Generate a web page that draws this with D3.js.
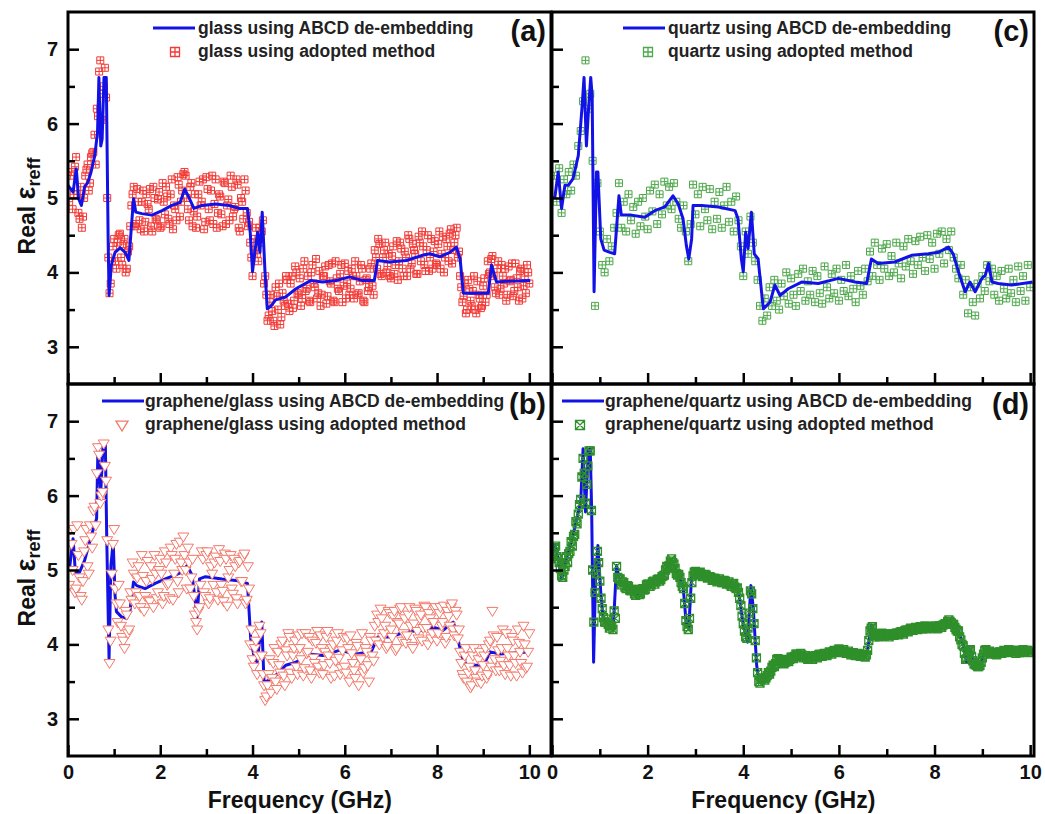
<!DOCTYPE html>
<html lang="en">
<head>
<meta charset="utf-8">
<script src="https://cdn.jsdelivr.net/npm/d3@7/dist/d3.min.js"></script>
<style>
  body { margin: 0; background: white; }
  svg { font-family: 'Liberation Sans', Arial, sans-serif; font-weight: bold; }
  .frame { fill: none; stroke: #000; stroke-width: 3; }
  .axis path { display: none; }
  .axis line { stroke: #000; stroke-width: 2.5; }
  .axis text { font-size: 20px; font-weight: bold; fill: #111; font-family: 'Liberation Sans', Arial, sans-serif; }
  .ablue { fill: none; stroke: #1212e6; stroke-width: 3; stroke-linejoin: round; }
  .legend text { font-size: 17.5px; fill: #222; }
  .plabel { font-size: 29px; fill: #111; }
  .xlabel { font-size: 23px; fill: #111; }
  .ylabel { font-size: 23px; fill: #111; }
</style>
</head>
<body>
<svg width="1045" height="814"></svg>
<script>
// ---- data ----
// ABCD de-embedding curves: frequency (GHz) / real eps_reff
const lineFreqA = [0, 0.11, 0.18, 0.23, 0.29, 0.36, 0.43, 0.50, 0.58, 0.64, 0.67, 0.71, 0.74, 0.78, 0.83, 0.87, 0.89, 0.94, 1.02, 1.13, 1.24, 1.32, 1.42, 1.47, 1.60, 1.82, 2.04, 2.25, 2.43, 2.53, 2.62, 2.73, 2.91, 3.20, 3.49, 3.71, 3.89, 3.95, 4.00, 4.06, 4.11, 4.16, 4.21, 4.27, 4.32, 4.39, 4.50, 4.72, 4.94, 5.26, 5.52, 5.81, 6.10, 6.39, 6.64, 6.71, 6.97, 7.33, 7.69, 7.84, 8.06, 8.28, 8.42, 8.50, 8.57, 8.86, 9.11, 9.18, 9.29, 9.51, 10.02];
const lineEpsA = [5.17, 5.08, 5.39, 4.99, 4.90, 5.15, 5.21, 5.35, 5.57, 5.88, 6.62, 5.70, 5.79, 6.62, 6.62, 4.45, 3.69, 4.10, 4.27, 4.33, 4.27, 4.16, 4.99, 4.81, 4.79, 4.77, 4.83, 4.90, 4.94, 5.12, 5.01, 4.86, 4.90, 4.92, 4.90, 4.86, 4.86, 4.54, 4.01, 4.32, 4.54, 4.27, 4.81, 4.01, 3.51, 3.54, 3.63, 3.67, 3.78, 3.89, 3.87, 3.89, 3.94, 3.89, 3.89, 4.16, 4.14, 4.16, 4.23, 4.25, 4.21, 4.27, 4.34, 4.18, 3.72, 3.72, 3.72, 4.10, 3.87, 3.88, 3.89];

const lineFreqB = [0, 0.04, 0.11, 0.16, 0.25, 0.36, 0.51, 0.62, 0.65, 0.71, 0.76, 0.81, 0.84, 0.89, 0.93, 0.98, 1.02, 1.05, 1.16, 1.27, 1.34, 1.42, 1.49, 1.67, 1.89, 2.11, 2.32, 2.47, 2.58, 2.69, 2.80, 2.85, 2.98, 3.34, 3.63, 3.89, 3.96, 4.03, 4.10, 4.20, 4.25, 4.36, 4.50, 4.72, 4.94, 5.23, 5.52, 5.88, 6.25, 6.57, 6.72, 6.97, 7.33, 7.70, 7.92, 8.13, 8.35, 8.42, 8.53, 8.64, 9.01, 9.15, 9.37, 10.02];
const lineEpsB = [5.00, 5.06, 5.42, 4.97, 4.97, 5.13, 5.47, 5.69, 6.68, 6.05, 6.68, 6.68, 5.42, 3.81, 5.06, 5.38, 4.66, 4.44, 4.37, 4.35, 4.44, 4.84, 4.79, 4.75, 4.82, 4.88, 4.93, 4.97, 5.06, 4.93, 4.37, 4.88, 4.91, 4.88, 4.86, 4.82, 4.08, 3.85, 3.76, 4.30, 3.49, 3.52, 3.58, 3.72, 3.76, 3.87, 3.85, 3.92, 3.87, 3.90, 4.10, 4.10, 4.17, 4.19, 4.23, 4.19, 4.30, 4.17, 3.85, 3.72, 3.72, 3.90, 3.87, 3.90];

const lineFreqC = [0, 0.06, 0.13, 0.20, 0.27, 0.34, 0.44, 0.55, 0.63, 0.67, 0.72, 0.76, 0.81, 0.84, 0.88, 0.93, 0.96, 1.02, 1.09, 1.21, 1.31, 1.40, 1.45, 1.66, 1.94, 2.15, 2.36, 2.53, 2.64, 2.74, 2.81, 2.86, 2.92, 2.95, 3.13, 3.48, 3.83, 3.89, 3.96, 4.00, 4.05, 4.10, 4.17, 4.23, 4.31, 4.42, 4.56, 4.66, 4.77, 4.94, 5.22, 5.57, 5.99, 6.34, 6.58, 6.68, 6.82, 7.17, 7.52, 7.87, 8.08, 8.29, 8.39, 8.50, 8.64, 8.74, 8.85, 8.99, 9.06, 9.13, 9.20, 9.33, 9.61, 10.05];
const lineEpsC = [5.00, 5.01, 5.35, 4.86, 5.17, 5.17, 5.26, 5.57, 6.24, 6.62, 5.70, 6.15, 6.62, 6.37, 3.74, 5.35, 5.35, 4.45, 4.30, 4.27, 4.25, 5.03, 4.77, 4.77, 4.74, 4.83, 4.88, 5.03, 4.92, 4.72, 4.36, 4.18, 4.45, 4.90, 4.90, 4.88, 4.83, 4.72, 4.18, 4.01, 4.54, 4.32, 4.81, 4.25, 4.18, 3.51, 3.60, 3.83, 3.69, 3.78, 3.87, 3.85, 3.92, 3.87, 3.85, 4.18, 4.12, 4.14, 4.23, 4.25, 4.27, 4.34, 4.25, 4.01, 3.74, 3.87, 3.74, 3.92, 3.96, 4.12, 3.87, 3.85, 3.83, 3.87];

const lineFreqD = [0, 0.06, 0.13, 0.20, 0.30, 0.41, 0.55, 0.60, 0.65, 0.70, 0.76, 0.80, 0.83, 0.87, 0.91, 0.96, 1.02, 1.07, 1.17, 1.28, 1.35, 1.42, 1.59, 1.80, 2.01, 2.29, 2.50, 2.64, 2.74, 2.81, 2.86, 2.92, 3.06, 3.34, 3.68, 3.89, 4.00, 4.09, 4.16, 4.21, 4.28, 4.33, 4.52, 4.73, 4.87, 5.15, 5.43, 5.78, 6.06, 6.33, 6.58, 6.68, 6.75, 7.17, 7.52, 7.87, 8.15, 8.32, 8.50, 8.60, 8.67, 8.74, 8.85, 8.95, 9.06, 9.26, 9.61, 10.05];
const lineEpsD = [5.20, 5.33, 5.15, 4.88, 5.15, 5.38, 5.78, 5.91, 6.63, 5.78, 6.61, 6.63, 5.78, 3.76, 4.88, 5.33, 4.70, 4.35, 4.28, 4.21, 5.06, 4.84, 4.77, 4.68, 4.79, 4.88, 5.13, 4.93, 4.79, 4.26, 4.21, 4.93, 4.97, 4.88, 4.82, 4.75, 4.26, 4.03, 4.79, 4.48, 3.72, 3.49, 3.58, 3.81, 3.76, 3.87, 3.81, 3.87, 3.92, 3.87, 3.85, 4.26, 4.12, 4.12, 4.21, 4.23, 4.23, 4.32, 4.17, 3.99, 3.76, 3.94, 3.72, 3.70, 3.94, 3.87, 3.92, 3.90];

// adopted-method points: every 25 MHz, split in two interleaved runs
// (run 1 at 0.05, 0.10 ... 10.00 GHz, run 2 at 0.025, 0.075 ... 9.975 GHz)
const sweepGHz = d3.range(1, 201).map(i => +(i * 0.05).toFixed(3));
const sweepMidGHz = d3.range(0, 200).map(i => +(i * 0.05 + 0.025).toFixed(3));

const scatterA = [
  5.30, 4.85, 5.42, 5.05, 4.72, 4.60, 5.00, 5.38, 5.10, 5.55, 5.62, 5.45, 6.10, 6.85, 6.40, 6.75, 5.00, 3.72, 4.15, 4.45,
  4.05, 4.50, 4.20, 4.38, 4.00, 4.28, 4.62, 5.05, 4.62, 5.12, 4.70, 4.95, 4.55, 5.05, 4.85, 4.62, 5.15, 4.72, 4.98, 4.60,
  5.20, 4.78, 5.02, 4.65, 5.25, 4.90, 4.70, 5.18, 4.95, 5.32, 5.30, 4.85, 5.15, 4.62, 5.05, 4.75, 5.22, 4.95, 4.58, 5.28,
  4.85, 5.10, 4.65, 5.25, 4.80, 5.02, 4.62, 5.20, 4.90, 4.70, 5.15, 4.85, 5.25, 4.60, 5.00, 4.72, 5.10, 4.62, 4.40, 3.95,
  4.45, 4.25, 4.60, 4.55, 3.85, 3.70, 3.42, 3.70, 3.35, 3.80, 3.50, 3.30, 3.72, 3.55, 3.90, 3.48, 3.95, 3.62, 4.00, 3.70,
  3.55, 4.05, 3.75, 3.95, 3.60, 4.10, 3.80, 3.65, 4.02, 3.70, 3.95, 3.58, 4.10, 3.85, 3.62, 4.15, 3.78, 3.98, 3.60, 4.12,
  3.85, 3.70, 4.05, 3.65, 3.95, 3.72, 4.10, 3.62, 3.90, 3.75, 4.05, 3.82, 4.30, 4.05, 4.38, 3.95, 4.30, 4.00, 4.25, 3.92,
  4.35, 4.10, 3.90, 4.40, 4.05, 4.28, 3.95, 4.45, 4.12, 4.30, 3.98, 4.48, 4.15, 4.35, 4.02, 4.50, 4.20, 4.05, 4.42, 4.10,
  4.55, 4.25, 4.00, 4.45, 4.15, 4.58, 4.30, 4.50, 4.20, 3.95, 3.60, 3.85, 3.50, 3.78, 3.55, 3.95, 3.45, 3.70, 3.52, 3.82,
  3.60, 4.15, 4.00, 4.22, 3.80, 4.05, 3.70, 4.10, 3.85, 3.62, 4.08, 3.90, 3.68, 4.12, 3.80, 4.02, 3.65, 3.95, 4.10, 3.85
];
const scatterA2 = [
  4.95, 5.35, 5.05, 5.55, 4.80, 5.15, 4.75, 5.30, 5.45, 5.20, 5.60, 5.85, 6.20, 6.70, 6.05, 6.50, 6.35, 4.20, 3.85, 4.35,
  4.15, 4.40, 4.52, 4.10, 4.45, 4.05, 4.35, 4.90, 5.15, 4.65, 4.95, 4.58, 5.10, 4.68, 4.92, 5.12, 4.55, 5.00, 4.70, 5.08,
  4.62, 4.95, 5.15, 4.72, 5.05, 4.58, 4.85, 5.28, 4.75, 5.10, 5.35, 5.00, 4.70, 5.20, 4.82, 4.60, 5.05, 4.90, 5.25, 4.68,
  5.12, 4.70, 5.30, 4.92, 4.60, 5.05, 4.78, 5.22, 4.65, 4.98, 5.30, 4.75, 4.88, 5.18, 4.55, 4.95, 5.25, 4.80, 4.68, 4.20,
  4.30, 4.60, 4.15, 4.40, 4.70, 3.95, 3.35, 3.60, 3.48, 3.28, 3.68, 3.85, 3.40, 3.62, 3.95, 3.58, 3.85, 3.52, 4.08, 3.72,
  3.92, 3.65, 4.15, 3.78, 3.62, 4.00, 3.85, 4.18, 3.72, 3.55, 3.95, 4.08, 3.68, 3.88, 4.12, 3.60, 3.92, 3.75, 4.10, 3.82,
  3.65, 4.02, 3.78, 3.95, 4.15, 3.70, 3.88, 4.05, 3.60, 3.92, 3.80, 4.12, 3.70, 4.20, 4.45, 3.98, 4.20, 4.40, 4.08, 3.95,
  4.22, 3.98, 4.42, 4.15, 4.32, 3.95, 4.20, 4.50, 4.05, 4.38, 4.25, 3.98, 4.40, 4.55, 4.10, 4.30, 4.02, 4.45, 4.28, 4.12,
  4.38, 4.05, 4.48, 4.20, 4.35, 4.52, 4.12, 4.40, 4.60, 4.28, 3.80, 3.68, 3.45, 3.90, 3.62, 3.75, 3.50, 3.88, 3.65, 3.55,
  3.92, 3.70, 3.98, 4.18, 3.95, 3.72, 4.15, 3.78, 3.95, 4.05, 3.70, 3.88, 4.12, 3.75, 3.92, 3.62, 4.05, 3.82, 3.72, 4.00
];
const scatterB = [
  5.55, 5.00, 4.70, 5.60, 4.90, 4.60, 5.25, 5.55, 4.95, 5.45, 5.80, 5.60, 6.65, 5.90, 6.05, 6.40, 5.40, 3.75, 4.95, 5.55,
  4.55, 4.80, 4.25, 4.05, 4.45, 4.15, 4.70, 5.10, 4.55, 4.90, 4.65, 5.20, 4.45, 4.85, 4.60, 5.05, 4.50, 4.95, 4.70, 5.15,
  4.55, 5.25, 4.80, 4.62, 5.20, 4.95, 5.35, 4.70, 5.10, 5.45, 5.00, 5.30, 4.75, 5.15, 4.40, 4.20, 4.50, 5.25, 4.70, 5.20,
  4.55, 5.05, 4.80, 5.18, 4.60, 5.12, 4.72, 5.22, 4.52, 5.00, 4.75, 5.15, 4.62, 5.10, 4.85, 5.18, 4.55, 5.05, 4.00, 3.80,
  3.95, 3.60, 4.25, 3.85, 3.45, 3.30, 3.60, 3.35, 3.75, 3.50, 3.90, 3.62, 4.05, 3.45, 3.85, 4.10, 3.55, 3.95, 3.70, 4.12,
  3.80, 3.58, 4.15, 3.90, 3.65, 4.05, 3.75, 4.18, 3.62, 3.95, 3.72, 4.10, 3.85, 3.55, 4.00, 3.78, 4.15, 3.60, 3.92, 3.70,
  4.08, 3.50, 3.88, 3.65, 4.02, 3.45, 3.80, 3.62, 3.95, 3.72, 4.10, 3.85, 4.25, 4.40, 4.00, 4.35, 4.15, 3.95, 4.45, 4.20,
  4.38, 3.92, 4.30, 4.48, 4.05, 4.35, 4.12, 4.50, 3.98, 4.28, 4.45, 4.08, 4.40, 4.22, 4.50, 4.00, 4.35, 4.15, 4.48, 4.05,
  4.42, 4.25, 4.52, 4.10, 4.38, 4.50, 4.20, 4.45, 4.08, 3.90, 3.60, 3.85, 3.50, 3.70, 3.45, 3.95, 3.55, 3.80, 3.48, 3.72,
  3.95, 3.60, 4.05, 4.45, 3.80, 4.10, 3.65, 3.95, 3.72, 4.15, 3.85, 3.58, 4.05, 3.75, 4.20, 3.90, 3.62, 4.00, 3.70, 4.15
];
const scatterB2 = [
  4.80, 5.35, 5.55, 4.75, 5.20, 4.65, 4.85, 5.40, 5.05, 5.60, 5.30, 5.85, 6.30, 6.55, 6.00, 6.70, 6.20, 4.20, 4.05, 5.35,
  4.75, 4.30, 4.55, 4.10, 3.95, 4.40, 4.20, 4.60, 4.95, 4.70, 5.05, 4.50, 4.92, 4.65, 5.12, 4.58, 4.88, 5.20, 4.62, 5.00,
  4.95, 4.65, 5.10, 4.82, 5.30, 4.60, 5.15, 4.85, 5.38, 5.00, 5.20, 4.75, 5.10, 4.90, 4.65, 4.30, 4.45, 4.80, 5.15, 4.65,
  5.25, 4.62, 4.95, 5.10, 4.70, 5.28, 4.80, 4.58, 5.15, 4.90, 5.20, 4.68, 5.05, 4.55, 5.12, 4.85, 5.22, 4.60, 4.75, 4.20,
  3.70, 4.05, 3.85, 4.15, 3.60, 3.25, 3.45, 3.80, 3.55, 3.95, 3.40, 3.72, 4.00, 3.58, 3.92, 4.15, 3.62, 3.85, 4.05, 3.60,
  3.95, 4.15, 3.68, 3.88, 4.10, 3.55, 3.82, 4.02, 3.70, 4.12, 3.60, 3.90, 4.18, 3.75, 3.95, 3.58, 4.05, 3.82, 3.68, 4.10,
  3.62, 3.95, 4.12, 3.75, 3.55, 3.98, 3.82, 4.15, 3.68, 3.90, 3.50, 4.05, 3.78, 4.05, 4.30, 4.48, 4.10, 4.25, 3.98, 4.42,
  4.10, 4.45, 3.95, 4.28, 4.50, 4.15, 4.02, 4.40, 4.25, 3.95, 4.48, 4.18, 4.35, 4.05, 4.52, 4.22, 4.42, 4.08, 4.30, 4.50,
  4.15, 4.50, 4.30, 4.02, 4.45, 4.25, 4.55, 4.12, 4.40, 4.20, 3.75, 3.55, 3.95, 3.62, 3.42, 3.85, 3.65, 3.50, 3.90, 3.58,
  3.85, 3.55, 4.00, 3.70, 4.12, 3.65, 3.92, 3.78, 4.20, 3.60, 3.95, 3.72, 4.10, 3.85, 3.58, 4.02, 3.75, 4.25, 3.68, 3.90
];
const scatterC = [
  5.30, 4.95, 5.40, 4.80, 5.25, 5.05, 5.35, 5.10, 5.45, 5.30, 5.70, 5.90, 6.30, 6.85, 6.20, 6.40, 5.50, 3.55, 5.20, 4.55,
  4.10, 4.00, 4.45, 4.15, 4.35, 4.60, 4.80, 5.20, 4.60, 4.95, 4.55, 5.05, 4.70, 4.88, 4.52, 4.95, 4.62, 5.00, 4.75, 4.58,
  5.10, 4.82, 5.18, 4.65, 5.05, 4.78, 5.22, 4.90, 5.15, 4.85, 5.20, 4.95, 4.72, 4.60, 4.90, 4.55, 4.15, 4.65, 5.18, 4.78,
  5.05, 4.62, 5.15, 4.85, 4.70, 5.12, 4.58, 4.95, 4.72, 5.08, 4.60, 4.90, 5.15, 4.68, 4.95, 4.55, 5.02, 4.70, 4.35, 3.95,
  4.55, 4.25, 4.75, 4.40, 4.15, 3.90, 3.55, 3.35, 3.65, 3.42, 3.80, 3.55, 3.90, 3.62, 3.50, 3.85, 3.68, 4.00, 3.58, 3.92,
  3.70, 3.55, 3.98, 3.75, 4.05, 3.62, 3.88, 3.70, 4.02, 3.60, 3.95, 3.72, 3.58, 4.08, 3.80, 3.65, 3.98, 3.72, 4.05, 3.62,
  3.90, 3.75, 4.10, 3.68, 3.95, 3.78, 3.60, 4.02, 3.82, 3.70, 4.05, 3.88, 4.28, 3.95, 4.40, 4.10, 3.90, 4.32, 4.05, 4.38,
  3.95, 4.22, 4.00, 4.40, 4.12, 3.92, 4.35, 4.08, 4.45, 4.15, 3.98, 4.42, 4.10, 4.48, 4.20, 4.02, 4.50, 4.18, 4.40, 4.05,
  4.52, 4.25, 4.55, 4.12, 4.45, 4.30, 4.55, 4.20, 4.05, 3.92, 4.10, 3.70, 3.90, 3.45, 3.80, 3.60, 3.42, 3.85, 3.65, 3.95,
  3.75, 4.10, 3.88, 4.05, 3.70, 3.95, 3.62, 4.02, 3.78, 3.65, 4.05, 3.72, 3.90, 3.60, 4.08, 3.75, 3.95, 3.62, 4.10, 3.80
];
const scatterD = [
  5.30, 5.18, 5.10, 4.92, 5.00, 5.18, 5.22, 5.38, 5.45, 5.65, 5.75, 5.95, 6.50, 5.90, 6.40, 6.60, 5.00, 4.70, 5.25, 4.85,
  4.48, 4.30, 4.34, 4.22, 4.25, 4.45, 5.05, 4.88, 4.80, 4.83, 4.75, 4.78, 4.72, 4.74, 4.66, 4.70, 4.68, 4.75, 4.74, 4.81,
  4.78, 4.84, 4.81, 4.87, 4.85, 4.91, 4.93, 5.05, 5.06, 5.15, 5.08, 4.95, 4.94, 4.83, 4.75, 4.32, 4.20, 4.62, 4.92, 4.98,
  4.95, 4.97, 4.91, 4.94, 4.89, 4.91, 4.86, 4.89, 4.84, 4.88, 4.83, 4.86, 4.81, 4.84, 4.78, 4.82, 4.75, 4.70, 4.52, 4.28,
  4.10, 4.22, 4.72, 4.48, 4.05, 3.62, 3.48, 3.54, 3.52, 3.58, 3.60, 3.69, 3.70, 3.80, 3.78, 3.80, 3.74, 3.79, 3.77, 3.83,
  3.81, 3.87, 3.85, 3.88, 3.82, 3.85, 3.80, 3.83, 3.80, 3.85, 3.82, 3.87, 3.84, 3.88, 3.85, 3.90, 3.87, 3.92, 3.89, 3.94,
  3.90, 3.93, 3.88, 3.91, 3.86, 3.89, 3.85, 3.88, 3.84, 3.87, 3.83, 3.92, 4.18, 4.24, 4.10, 4.14, 4.10, 4.15, 4.11, 4.14,
  4.10, 4.14, 4.12, 4.15, 4.13, 4.17, 4.14, 4.19, 4.17, 4.22, 4.19, 4.23, 4.20, 4.24, 4.21, 4.25, 4.21, 4.24, 4.22, 4.25,
  4.21, 4.25, 4.23, 4.27, 4.28, 4.33, 4.29, 4.27, 4.20, 4.18, 4.06, 3.98, 3.80, 3.90, 3.93, 3.78, 3.73, 3.70, 3.72, 3.82,
  3.92, 3.89, 3.91, 3.87, 3.89, 3.86, 3.90, 3.88, 3.92, 3.89, 3.93, 3.90, 3.92, 3.88, 3.91, 3.89, 3.93, 3.90, 3.92, 3.89
];
const scatterD2 = [
  5.22, 5.32, 5.15, 5.02, 4.90, 5.05, 5.10, 5.25, 5.32, 5.48, 5.62, 5.88, 6.25, 6.30, 6.15, 6.60, 5.80, 4.30, 4.95, 5.10,
  4.62, 4.36, 4.30, 4.27, 4.25, 4.20, 4.35, 4.90, 4.88, 4.84, 4.77, 4.79, 4.73, 4.74, 4.68, 4.71, 4.67, 4.74, 4.73, 4.80,
  4.81, 4.80, 4.85, 4.84, 4.88, 4.87, 4.92, 5.00, 5.03, 5.12, 5.10, 5.02, 4.93, 4.90, 4.78, 4.55, 4.24, 4.35, 4.83, 4.97,
  4.96, 4.95, 4.94, 4.92, 4.93, 4.90, 4.90, 4.87, 4.88, 4.85, 4.86, 4.83, 4.85, 4.82, 4.80, 4.81, 4.77, 4.76, 4.62, 4.38,
  4.18, 4.08, 4.42, 4.68, 4.28, 3.82, 3.50, 3.53, 3.55, 3.55, 3.62, 3.64, 3.72, 3.74, 3.81, 3.78, 3.78, 3.76, 3.79, 3.80,
  3.83, 3.84, 3.87, 3.85, 3.86, 3.83, 3.82, 3.81, 3.82, 3.84, 3.83, 3.86, 3.85, 3.87, 3.86, 3.88, 3.89, 3.90, 3.91, 3.92,
  3.93, 3.91, 3.90, 3.89, 3.88, 3.87, 3.86, 3.87, 3.85, 3.86, 3.84, 3.86, 4.05, 4.22, 4.14, 4.12, 4.13, 4.11, 4.13, 4.12,
  4.12, 4.13, 4.13, 4.14, 4.15, 4.16, 4.16, 4.18, 4.19, 4.20, 4.21, 4.21, 4.22, 4.22, 4.23, 4.23, 4.22, 4.24, 4.23, 4.23,
  4.24, 4.22, 4.25, 4.26, 4.28, 4.31, 4.31, 4.27, 4.23, 4.18, 4.10, 4.00, 3.88, 3.80, 3.92, 3.84, 3.74, 3.72, 3.70, 3.76,
  3.87, 3.93, 3.90, 3.88, 3.89, 3.87, 3.88, 3.90, 3.89, 3.91, 3.90, 3.92, 3.91, 3.90, 3.92, 3.89, 3.91, 3.90, 3.92, 3.90
];

const epsMajorTicks = [3, 4, 5, 6, 7];
const epsMinorTicks = [3.5, 4.5, 5.5, 6.5];
const freqMajorTicks = [0, 2, 4, 6, 8, 10];
const freqMinorTicks = [1, 3, 5, 7, 9];

const legendLine = ['glass using ABCD de-embedding', 'graphene/glass using ABCD de-embedding',
                    'quartz using ABCD de-embedding', 'graphene/quartz using ABCD de-embedding'];
const legendPoint = ['glass using adopted method', 'graphene/glass using  adopted method',
                     'quartz using adopted method', 'graphene/quartz using adopted method'];
const panelTags = ['(a)', '(b)', '(c)', '(d)'];

// ---- layout ----
const svg = d3.select('svg');
const yDomain = [2.5, 7.5];

const panels = [
  { tag: 0, x0: 68, x1: 551, y0: 12, y1: 384, xmax: 10.47, lf: lineFreqA, le: lineEpsA, pts: scatterA, pts2: scatterA2,
    marker: 'boxplus', color: '#f23a36', size: 3.5, lineOnTop: true,
    leg: { lx: 85, tx: 130, ty: 22, mx: 107 }, yLabels: true, xLabels: false },
  { tag: 1, x0: 68, x1: 551, y0: 384, y1: 756, xmax: 10.47, lf: lineFreqB, le: lineEpsB, pts: scatterB, pts2: scatterB2,
    marker: 'tri', color: '#f2796a', size: 5.5, lineOnTop: false,
    leg: { lx: 34, tx: 77, ty: 23, mx: 54 }, yLabels: true, xLabels: true },
  { tag: 2, x0: 552, x1: 1034, y0: 12, y1: 384, xmax: 10.08, lf: lineFreqC, le: lineEpsC, pts: scatterC, pts2: null,
    marker: 'boxplus', color: '#4da84a', size: 3.5, lineOnTop: true,
    leg: { lx: 71, tx: 116, ty: 22, mx: 96 }, yLabels: false, xLabels: false },
  { tag: 3, x0: 552, x1: 1034, y0: 384, y1: 756, xmax: 10.08, lf: lineFreqD, le: lineEpsD, pts: scatterD, pts2: scatterD2,
    marker: 'boxtimes', color: '#2f8f2a', size: 4, lineOnTop: false,
    leg: { lx: 10, tx: 53, ty: 23, mx: 28 }, yLabels: false, xLabels: true }
];

function markerPath(type, s) {
  if (type === 'tri') return `M${-s},${-s * 0.64}L${s},${-s * 0.64}L0,${s}Z`;
  const box = `M${-s},${-s}H${s}V${s}H${-s}Z`;
  if (type === 'boxplus') return box + `M0,${-s}V${s}M${-s},0H${s}`;
  return box + `M${-s},${-s}L${s},${s}M${s},${-s}L${-s},${s}`;
}

panels.forEach(p => {
  const x = d3.scaleLinear().domain([0, p.xmax]).range([p.x0, p.x1]);
  const y = d3.scaleLinear().domain(yDomain).range([p.y1, p.y0]);
  const g = svg.append('g');

  const clipId = 'clip' + p.tag;
  svg.append('clipPath').attr('id', clipId).append('rect')
    .attr('x', p.x0).attr('y', p.y0).attr('width', p.x1 - p.x0).attr('height', p.y1 - p.y0);
  const plot = g.append('g').attr('clip-path', `url(#${clipId})`);

  const line = d3.line().x(d => x(d[0])).y(d => y(d[1]));
  const drawLine = () => plot.append('path').attr('class', 'ablue')
    .attr('d', line(p.lf.map((f, i) => [f, p.le[i]])));

  if (!p.lineOnTop) drawLine();

  const pts = p.pts.map((v, i) => [sweepGHz[i], v]);
  if (p.pts2) p.pts2.forEach((v, i) => pts.push([sweepMidGHz[i], v]));
  pts.sort((a, b) => a[0] - b[0]);

  plot.selectAll('path.pt').data(pts).join('path')
    .attr('class', 'pt')
    .attr('transform', d => `translate(${x(d[0])},${y(d[1])})`)
    .attr('d', markerPath(p.marker, p.size))
    .attr('fill', p.marker === 'tri' ? 'white' : 'none')
    .attr('stroke', p.color)
    .attr('stroke-width', p.marker === 'boxtimes' ? 1.3 : 1);

  if (p.lineOnTop) drawLine();

  // axes, ticks pointing inward
  const fmtY = p.yLabels ? d3.format('d') : () => '';
  const fmtX = p.xLabels ? d3.format('d') : () => '';
  g.append('g').attr('class', 'axis').attr('transform', `translate(${p.x0},0)`)
    .call(d3.axisLeft(y).tickValues(epsMajorTicks).tickSize(-11).tickPadding(10).tickFormat(fmtY));
  g.append('g').attr('class', 'axis').attr('transform', `translate(${p.x0},0)`)
    .call(d3.axisLeft(y).tickValues(epsMinorTicks).tickSize(-7).tickFormat(''));
  g.append('g').attr('class', 'axis').attr('transform', `translate(0,${p.y1})`)
    .call(d3.axisBottom(x).tickValues(freqMajorTicks).tickSize(-11).tickPadding(9).tickFormat(fmtX));
  g.append('g').attr('class', 'axis').attr('transform', `translate(0,${p.y1})`)
    .call(d3.axisBottom(x).tickValues(freqMinorTicks).tickSize(-7).tickFormat(''));

  g.append('rect').attr('class', 'frame')
    .attr('x', p.x0).attr('y', p.y0).attr('width', p.x1 - p.x0).attr('height', p.y1 - p.y0);

  // legend
  const lg = g.append('g').attr('class', 'legend').attr('transform', `translate(${p.x0},${p.y0})`);
  lg.append('line').attr('x1', p.leg.lx).attr('x2', p.leg.lx + 42)
    .attr('y1', p.leg.ty - 6).attr('y2', p.leg.ty - 6)
    .attr('stroke', '#1212e6').attr('stroke-width', 3);
  lg.append('text').attr('x', p.leg.tx).attr('y', p.leg.ty).text(legendLine[p.tag]);
  lg.append('path').attr('transform', `translate(${p.leg.mx},${p.leg.ty + 18})`)
    .attr('d', markerPath(p.marker, p.marker === 'tri' ? 6 : 4.5))
    .attr('fill', p.marker === 'tri' ? 'white' : 'none')
    .attr('stroke', p.color).attr('stroke-width', 1.3);
  lg.append('text').attr('x', p.leg.tx).attr('y', p.leg.ty + 23).text(legendPoint[p.tag]);

  g.append('text').attr('class', 'plabel').attr('text-anchor', 'end')
    .attr('x', p.x1 - 5).attr('y', p.y0 + (p.tag % 2 ? 30 : 29)).text(panelTags[p.tag]);

  if (p.xLabels) {
    g.append('text').attr('class', 'xlabel').attr('text-anchor', 'middle')
      .attr('x', p.x0 + (p.x1 - p.x0) * 0.48).attr('y', 808).text('Frequency (GHz)');
  }
  if (p.yLabels) {
    const t = g.append('text').attr('class', 'ylabel').attr('text-anchor', 'middle')
      .attr('transform', `translate(35,${(p.y0 + p.y1) / 2 + 8}) rotate(-90)`);
    t.append('tspan').text('Real ');
    t.append('tspan').style('font-size', '27px').text('ε');
    t.append('tspan').style('font-size', '18px').attr('dy', 5).text('reff');
  }
});
</script>
</body>
</html>
